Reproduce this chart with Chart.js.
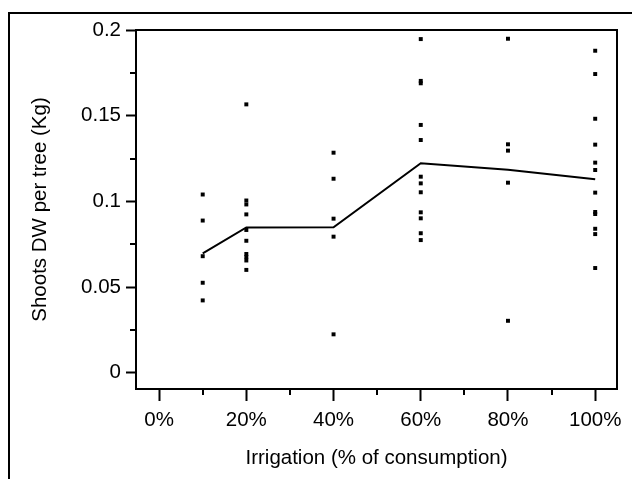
<!DOCTYPE html>
<html>
<head>
<meta charset="utf-8">
<script src="https://cdn.jsdelivr.net/npm/chart.js@4"></script>
<style>
html,body{margin:0;padding:0;background:#fff;}
canvas{display:block;}
</style>
</head>
<body>
<canvas id="c" width="632" height="479"></canvas>
<script>
// ---- data ----
const levels = [10, 20, 40, 60, 80, 100];           // irrigation, % of consumption
const obs10  = [0.1040, 0.0888, 0.0680, 0.0525, 0.0422];
const obs20  = [0.1566, 0.1005, 0.0982, 0.0924, 0.0833, 0.0770, 0.0693, 0.0675, 0.0655, 0.0600];
const obs40  = [0.1284, 0.1132, 0.0899, 0.0794, 0.0224];
const obs60  = [0.1947, 0.1703, 0.1689, 0.1446, 0.1358, 0.1144, 0.1105, 0.1053, 0.0936, 0.0901, 0.0814, 0.0774];
const obs80  = [0.1949, 0.1333, 0.1296, 0.1109, 0.0303];
const obs100 = [0.1879, 0.1743, 0.1482, 0.1331, 0.1226, 0.1183, 0.1051, 0.0938, 0.0926, 0.0840, 0.0809, 0.0611];
const means  = [0.0697, 0.0848, 0.0849, 0.1222, 0.1185, 0.1129];
const xTickValues = [0, 20, 40, 60, 80, 100];
const xTickLabels = ['0%', '20%', '40%', '60%', '80%', '100%'];
const xMinorValues = [10, 30, 50, 70, 90];
const yTickValues = [0, 0.05, 0.1, 0.15, 0.2];
const yTickLabels = ['0', '0.05', '0.1', '0.15', '0.2'];
const yMinorValues = [0.025, 0.075, 0.125, 0.175];

const groups = [obs10, obs20, obs40, obs60, obs80, obs100];
const scatterPts = [];
groups.forEach((g, i) => g.forEach(v => scatterPts.push({x: levels[i], y: v})));
const meanPts = levels.map((x, i) => ({x: x, y: means[i]}));

const FONT = {family: '"Liberation Sans", Arial, sans-serif', size: 20.5};

const framePlugin = {
  id: 'frame',
  beforeDraw(chart) {
    const ctx = chart.ctx;
    ctx.save();
    ctx.fillStyle = '#fff';
    ctx.fillRect(0, 0, chart.width, chart.height);
    ctx.restore();
  },
  afterDraw(chart) {
    const ctx = chart.ctx;
    const a = chart.chartArea;
    const xs = chart.scales.x, ys = chart.scales.y;
    ctx.save();
    ctx.strokeStyle = '#000';
    // outer frame
    ctx.lineWidth = 2;
    ctx.beginPath();
    ctx.moveTo(9, chart.height + 5);
    ctx.lineTo(9, 13);
    ctx.lineTo(chart.width + 5, 13);
    ctx.stroke();
    // plot frame
    ctx.strokeRect(a.left, a.top, a.right - a.left, a.bottom - a.top);
    // minor ticks
    ctx.lineWidth = 2;
    ctx.beginPath();
    xMinorValues.forEach(v => {
      const px = Math.round(xs.getPixelForValue(v));
      ctx.moveTo(px, a.bottom);
      ctx.lineTo(px, a.bottom + 6);
    });
    yMinorValues.forEach(v => {
      const py = Math.round(ys.getPixelForValue(v));
      ctx.moveTo(a.left, py);
      ctx.lineTo(a.left - 6, py);
    });
    ctx.stroke();
    ctx.restore();
  }
};

new Chart(document.getElementById('c'), {
  type: 'scatter',
  data: {
    datasets: [
      {
        type: 'line',
        data: meanPts,
        borderColor: '#000',
        borderWidth: 2,
        pointRadius: 0,
        fill: false,
        tension: 0,
        order: 2
      },
      {
        data: scatterPts,
        pointStyle: 'rect',
        pointRadius: 2.8,
        pointBorderWidth: 0,
        backgroundColor: '#000',
        borderColor: '#000',
        order: 1
      }
    ]
  },
  options: {
    responsive: false,
    animation: false,
    devicePixelRatio: 1,
    layout: {padding: {left: 0, top: 30, right: 15, bottom: 0}},
    plugins: {legend: {display: false}, tooltip: {enabled: false}},
    scales: {
      x: {
        type: 'linear',
        min: -5.3,
        max: 105,
        afterFit: s => { s.height = 90; },
        afterBuildTicks: s => { s.ticks = xTickValues.map(v => ({value: v})); },
        ticks: {
          color: '#000',
          font: FONT,
          padding: 7,
          maxRotation: 0,
          autoSkip: false,
          callback: (v) => { const i = xTickValues.indexOf(v); return i >= 0 ? xTickLabels[i] : ''; }
        },
        grid: {display: true, drawOnChartArea: false, drawTicks: true, tickLength: 12, tickColor: '#000', tickWidth: 2},
        border: {display: false},
        title: {display: true, text: 'Irrigation (% of consumption)', color: '#000', font: FONT, padding: {top: 8, bottom: 8}}
      },
      y: {
        type: 'linear',
        min: -0.0095,
        max: 0.2,
        afterFit: s => { s.width = 136; },
        afterBuildTicks: s => { s.ticks = yTickValues.map(v => ({value: v})); },
        ticks: {
          color: '#000',
          font: FONT,
          padding: 5,
          autoSkip: false,
          callback: (v) => { const i = yTickValues.indexOf(v); return i >= 0 ? yTickLabels[i] : ''; }
        },
        grid: {display: true, drawOnChartArea: false, drawTicks: true, tickLength: 10, tickColor: '#000', tickWidth: 2},
        border: {display: false},
        title: {display: true, text: 'Shoots DW per tree (Kg)', color: '#000', font: FONT, padding: {top: 28, bottom: 28}}
      }
    }
  },
  plugins: [framePlugin]
});
</script>
</body>
</html>
